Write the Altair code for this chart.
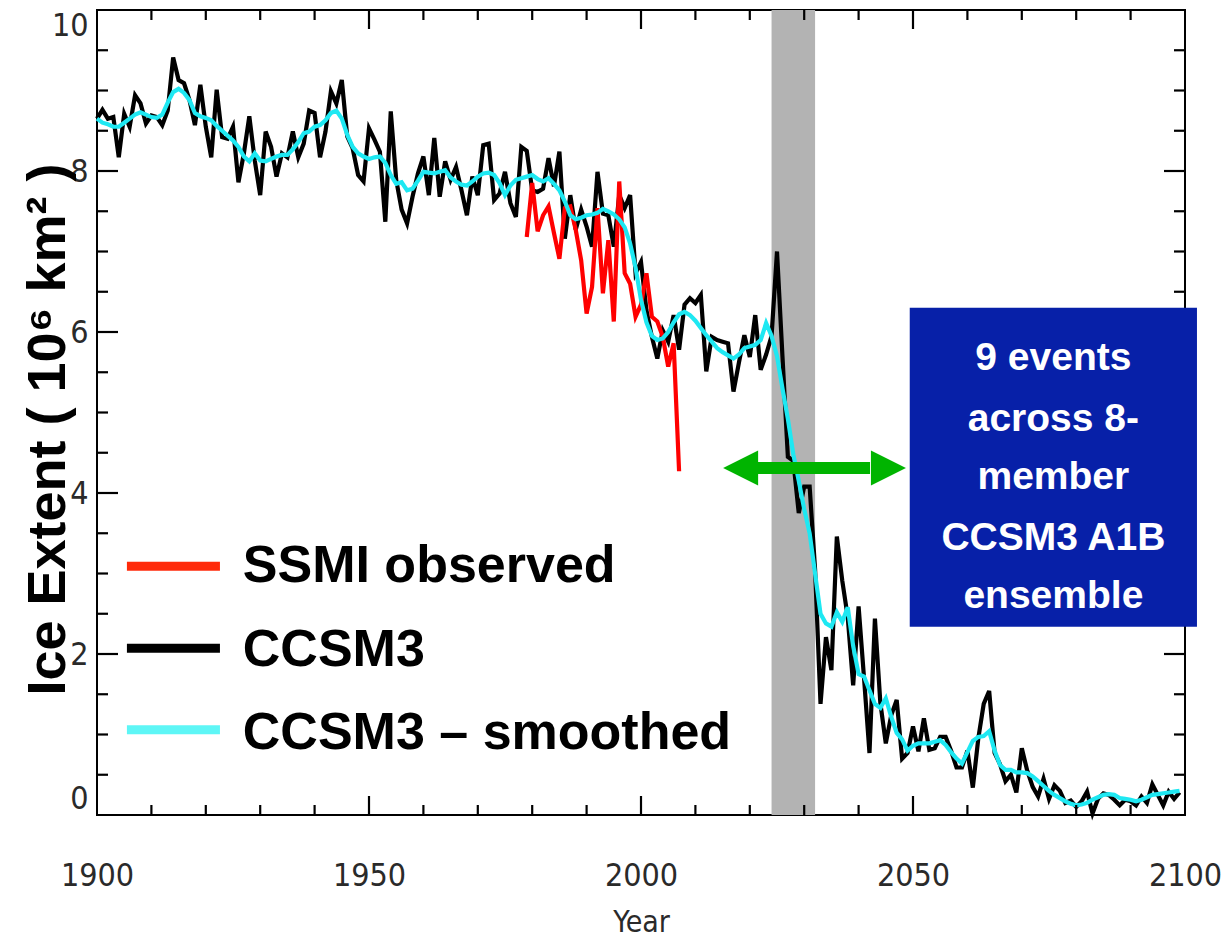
import altair as alt
import pandas as pd

# ---------------- data ----------------
years = list(range(1900, 2100))
ccsm3 = [
    8.65, 8.76, 8.65, 8.67, 8.17, 8.71, 8.55, 8.94, 8.84, 8.59,
    8.69, 8.67, 8.57, 8.75, 9.41, 9.13, 9.09, 8.88, 8.57, 9.07,
    8.55, 8.17, 9.01, 8.42, 8.40, 8.55, 7.86, 8.22, 8.68, 8.13,
    7.70, 8.49, 8.30, 7.93, 8.22, 8.17, 8.49, 8.17, 8.34, 8.75,
    8.72, 8.17, 8.49, 8.99, 8.84, 9.13, 8.43, 8.28, 7.95, 7.87,
    8.53, 8.39, 8.24, 7.37, 8.74, 7.89, 7.52, 7.35, 7.68, 7.97,
    8.18, 7.70, 8.41, 7.68, 8.12, 7.89, 8.05, 7.76, 7.45, 7.93,
    7.70, 8.32, 8.34, 7.64, 7.72, 7.99, 7.60, 7.43, 8.30, 8.25,
    7.76, 7.74, 7.78, 8.16, 7.81, 8.24, 7.16, 7.70, 7.27, 7.52,
    7.31, 7.06, 7.99, 7.47, 7.45, 7.06, 7.70, 7.54, 7.70, 6.73,
    6.87, 6.27, 5.94, 5.67, 6.02, 5.88, 6.21, 5.78, 6.34, 6.42,
    6.36, 6.46, 5.51, 5.94, 5.90, 5.88, 5.86, 5.26, 5.62, 5.96,
    5.69, 6.21, 5.53, 5.72, 5.95, 7.00, 5.70, 4.45, 4.40, 3.75,
    4.08, 4.08, 3.05, 1.38, 2.21, 1.80, 3.46, 2.91, 2.46, 1.61,
    2.59, 1.70, 0.77, 2.44, 1.39, 0.89, 1.24, 1.43, 0.70, 0.77,
    1.10, 0.79, 1.20, 0.81, 0.83, 0.97, 0.97, 0.80, 0.59, 0.59,
    0.80, 0.34, 0.95, 1.38, 1.54, 0.77, 0.63, 0.42, 0.50, 0.28,
    0.83, 0.55, 0.35, 0.23, 0.45, 0.20, 0.37, 0.30, 0.15, 0.18,
    0.10, 0.17, 0.29, 0.02, 0.20, 0.27, 0.25, 0.19, 0.12, 0.19,
    0.17, 0.12, 0.23, 0.15, 0.38, 0.25, 0.12, 0.29, 0.20, 0.28,
]
smoothed = [
    8.65, 8.60, 8.58, 8.55, 8.55, 8.60, 8.65, 8.70, 8.73, 8.70,
    8.67, 8.66, 8.70, 8.85, 8.98, 9.02, 8.97, 8.88, 8.72, 8.68,
    8.66, 8.63, 8.56, 8.50, 8.44, 8.38, 8.30, 8.18, 8.12, 8.22,
    8.13, 8.12, 8.15, 8.18, 8.20, 8.20, 8.27, 8.36, 8.47, 8.49,
    8.55, 8.57, 8.63, 8.72, 8.75, 8.65, 8.45, 8.30, 8.22, 8.18,
    8.15, 8.17, 8.18, 8.10, 7.95, 7.84, 7.86, 7.76, 7.78, 7.88,
    7.99, 7.98, 7.97, 7.99, 8.01, 7.92, 7.87, 7.83, 7.82, 7.87,
    7.93, 7.97, 7.98, 7.95, 7.85, 7.70, 7.82, 7.89, 7.91, 7.93,
    7.95, 7.90, 7.87, 7.91, 7.84, 7.76, 7.62, 7.45, 7.40, 7.42,
    7.45, 7.46, 7.48, 7.53, 7.50, 7.46, 7.40, 7.30, 7.10, 6.80,
    6.40, 6.12, 5.95, 5.90, 5.92, 6.00, 6.12, 6.22, 6.25, 6.21,
    6.14, 6.05, 5.96, 5.88, 5.80, 5.75, 5.71, 5.67, 5.72, 5.80,
    5.82, 5.84, 5.90, 6.11, 5.95, 5.70, 5.30, 4.92, 4.48, 4.15,
    3.80, 3.50, 3.00, 2.50, 2.38, 2.34, 2.52, 2.40, 2.58, 2.10,
    1.75, 1.72, 1.55, 1.38, 1.33, 1.45, 1.22, 1.02, 0.94, 0.80,
    0.86, 0.89, 0.89, 0.89, 0.91, 0.93, 0.87, 0.78, 0.70, 0.64,
    0.78, 0.92, 0.97, 0.98, 1.04, 0.80, 0.62, 0.56, 0.56, 0.53,
    0.53, 0.52, 0.48, 0.42, 0.36, 0.30, 0.25, 0.21, 0.17, 0.14,
    0.12, 0.13, 0.15, 0.19, 0.22, 0.25, 0.26, 0.25, 0.21, 0.20,
    0.19, 0.17, 0.19, 0.22, 0.25, 0.26, 0.27, 0.28, 0.29, 0.30,
]
ssmi_years = list(range(1979, 2008))
ssmi = [
    7.18, 7.85, 7.25, 7.45, 7.56, 7.23, 6.91, 7.54, 7.56, 7.27,
    6.89, 6.23, 6.56, 7.54, 6.48, 7.14, 6.13, 7.87, 6.73, 6.60,
    6.19, 6.34, 6.73, 6.19, 6.13, 5.94, 5.57, 5.86, 4.27,
]

# axis ticks and labels
x_labels = [1900, 1950, 2000, 2050, 2100]
x_major_ticks = [1950, 2000, 2050]
x_minor_ticks = [1910, 1920, 1930, 1940, 1960, 1970, 1980, 1990,
                 2010, 2020, 2030, 2040, 2060, 2070, 2080, 2090]
y_labels = [0, 2, 4, 6, 8, 10]
y_major_ticks = [2, 4, 6, 8]
y_minor_ticks = [0.5, 1, 1.5, 2.5, 3, 3.5, 4.5, 5, 5.5, 6.5, 7, 7.5, 8.5, 9, 9.5]

# annotations (data coordinates)
band_start, band_end = [2024], [2032]
arrow_tips = [2015.1, 2048.7]
arrow_shaft = [2021.5, 2042.1]
arrow_level = [4.31]
box_x = [2049.4, 2102.2]
box_y = [6.30, 2.34]
box_lines = ["9 events", "across 8-", "member", "CCSM3 A1B", "ensemble"]
box_line_y = [5.53, 4.77, 4.05, 3.29, 2.57]
box_text_x = [2075.8]
legend_labels = ["SSMI observed", "CCSM3", "CCSM3 \u2013 smoothed"]
legend_colors = ["#ff2a0a", "#000000", "#5ef6f6"]
legend_swatch_y = [3.09, 2.07, 1.06]
legend_text_y = [2.89, 1.85, 0.82]
legend_swatch_x = [1905.5, 1922.6]
legend_text_x = [1926.8]

# ---------------- chart ----------------
W, H = 1088, 805
X0, X1, Y0, Y1 = 1900, 2100, 0, 10
NARROW = "DejaVu Sans Condensed, Liberation Sans Narrow, Liberation Sans, sans-serif"
BOLD = "Liberation Sans, Arial, sans-serif"

xs = alt.Scale(domain=[X0, X1], nice=False, zero=False)
ys = alt.Scale(domain=[Y0, Y1], nice=False, zero=False)

x_axis = alt.Axis(values=x_labels, format="d", ticks=False, tickSize=0, domain=False, grid=False,
                  labelFont=NARROW, labelFontSize=32, labelColor="#2a2a2a",
                  labelBaseline="alphabetic", labelPadding=70, labelFlush=False,
                  title="Year", titleFont=NARROW, titleFontSize=30, titleFontWeight="normal",
                  titleColor="#2a2a2a", titleX=W / 2, titleY=116, titleBaseline="alphabetic")
y_axis = alt.Axis(values=y_labels, format="d", ticks=False, tickSize=0, domain=False, grid=False,
                  labelFont=NARROW, labelFontSize=32, labelColor="#2a2a2a",
                  labelPadding=9, labelFlush=True,
                  title="Ice Extent ( 10\u2076 km\u00b2 )", titleFont=BOLD, titleFontSize=54,
                  titleFontWeight="bold", titleColor="black", titleAngle=270,
                  titleX=-33, titleY=419, titleAlign="center", titleBaseline="alphabetic")


def X(field):
    return alt.X(field, scale=xs, axis=x_axis)


def Y(field):
    return alt.Y(field, scale=ys, axis=y_axis)


model_df = pd.DataFrame({"year": years, "ccsm3": ccsm3, "smoothed": smoothed})
obs_df = pd.DataFrame({"year": ssmi_years, "ssmi": ssmi})

band = alt.Chart(pd.DataFrame({"a": band_start, "b": band_end, "lo": [Y0], "hi": [Y1]})).mark_rect(
    color="#b3b3b3").encode(x=X("a:Q"), x2="b:Q", y=Y("lo:Q"), y2="hi:Q")

LW = 4.2
black = alt.Chart(model_df).mark_line(color="black", strokeWidth=LW).encode(
    x=X("year:Q"), y=Y("ccsm3:Q"))
red = alt.Chart(obs_df).mark_line(color="#ff0000", strokeWidth=LW).encode(
    x=X("year:Q"), y=Y("ssmi:Q"))
cyan = alt.Chart(model_df).mark_line(color="#1ee8f2", strokeWidth=LW).encode(
    x=X("year:Q"), y=Y("smoothed:Q"))

# inward frame ticks: lengths in pixels, turned into data units through the scale span
px_x = (X1 - X0) / W
px_y = (Y1 - Y0) / H
rows = []
for v, L in [(t, 10) for t in x_minor_ticks] + [(t, 19) for t in x_major_ticks]:
    rows.append({"x": v, "x2": v, "y": Y0, "y2": Y0 + L * px_y})
    rows.append({"x": v, "x2": v, "y": Y1, "y2": Y1 - L * px_y})
for v, L in [(t, 11) for t in y_minor_ticks] + [(t, 21) for t in y_major_ticks]:
    rows.append({"x": X0, "x2": X0 + L * px_x, "y": v, "y2": v})
    rows.append({"x": X1, "x2": X1 - L * px_x, "y": v, "y2": v})
tick_df = pd.DataFrame(rows)
frame_ticks = alt.Chart(tick_df).mark_rule(color="black", strokeWidth=2.2, strokeCap="butt").encode(
    x=X("x:Q"), x2="x2:Q", y=Y("y:Q"), y2="y2:Q")

green = "#00b400"
shaft = alt.Chart(pd.DataFrame({"a": [arrow_shaft[0]], "b": [arrow_shaft[1]], "y": arrow_level})).mark_rule(
    color=green, strokeWidth=12, strokeCap="butt").encode(x=X("a:Q"), x2="b:Q", y=Y("y:Q"))
head_left = alt.Chart(pd.DataFrame({"x": [arrow_tips[0]], "y": arrow_level})).mark_point(
    shape="M0,0 L2,-1 L2,1 Z", size=1225, filled=True, opacity=1, color=green, strokeWidth=0).encode(
    x=X("x:Q"), y=Y("y:Q"))
head_right = alt.Chart(pd.DataFrame({"x": [arrow_tips[1]], "y": arrow_level})).mark_point(
    shape="M0,0 L-2,-1 L-2,1 Z", size=1225, filled=True, opacity=1, color=green, strokeWidth=0).encode(
    x=X("x:Q"), y=Y("y:Q"))

box = alt.Chart(pd.DataFrame({"a": [box_x[0]], "b": [box_x[1]], "c": [box_y[0]], "d": [box_y[1]]})).mark_rect(
    color="#0720a8").encode(x=X("a:Q"), x2="b:Q", y=Y("c:Q"), y2="d:Q")
box_text = alt.Chart(pd.DataFrame({"t": box_lines, "y": box_line_y, "x": box_text_x * len(box_lines)})).mark_text(
    font=BOLD, fontSize=39, fontWeight="bold", color="white", align="center", baseline="alphabetic").encode(
    x=X("x:Q"), y=Y("y:Q"), text="t:N")

leg_df = pd.DataFrame({"label": legend_labels, "color": legend_colors, "sy": legend_swatch_y,
                       "ty": legend_text_y, "x0": legend_swatch_x[0], "x1": legend_swatch_x[1],
                       "tx": legend_text_x[0]})
leg_sw = alt.Chart(leg_df).mark_rule(strokeWidth=9, strokeCap="butt").encode(
    x=X("x0:Q"), x2="x1:Q", y=Y("sy:Q"), color=alt.Color("color:N", scale=None))
leg_tx = alt.Chart(leg_df).mark_text(font=BOLD, fontSize=52, fontWeight="bold", color="black",
                                      align="left", baseline="alphabetic").encode(
    x=X("tx:Q"), y=Y("ty:Q"), text="label:N")

chart = alt.layer(
    band, black, red, cyan, frame_ticks, shaft, head_left, head_right, box, box_text, leg_sw, leg_tx
).properties(
    width=W, height=H,
    autosize=alt.AutoSizeParams(type="none"),
    padding={"left": 89, "top": 2, "right": 37, "bottom": 124},
    background="white",
).configure_view(stroke="black", strokeWidth=2)

chart.save("out.html", embed_options={"renderer": "svg", "actions": False})
